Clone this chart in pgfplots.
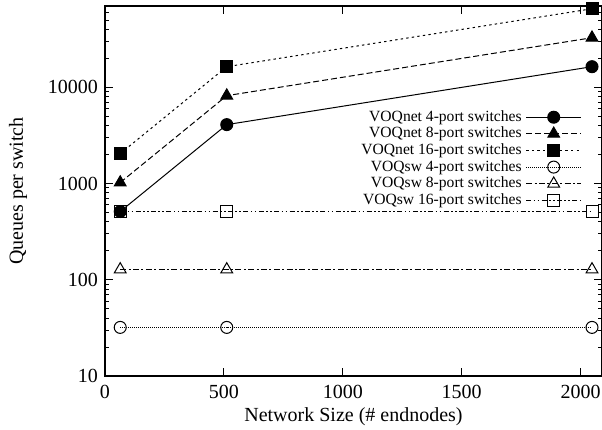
\documentclass[border=0pt]{standalone}
\usepackage{fontspec}
\setmainfont{Liberation Serif}
\usepackage{pgfplots}
\pgfplotsset{compat=1.18}
\begin{document}
\begin{tikzpicture}
\useasboundingbox (0,0) rectangle (301pt,215pt);
\begin{axis}[
  at={(52.5pt,27pt)}, anchor=south west,
  scale only axis, width=248.5pt, height=185pt,
  ymode=log, xmin=0, xmax=2090, ymin=10, ymax=70000,
  xtick={0,500,1000,1500,2000},
  xticklabels={0,500,1000,1500,2000},
  ytick={10,100,1000,10000},
  yticklabels={10,100,1000,10000},
  minor ytick={20,30,40,50,60,70,80,90,200,300,400,500,600,700,800,900,2000,3000,4000,5000,6000,7000,8000,9000,20000,30000,40000,50000,60000,70000},
  tick align=inside,
  major tick length=4pt, minor tick length=2pt,
  tick style={line width=0.5pt, black},
  axis line style={line width=0.7pt},
  /pgf/number format/assume math mode=true,
  ticklabel style={font=\fontsize{10}{12}\selectfont},
  xticklabel style={yshift=-1pt},
  xlabel={Network Size (\# endnodes)},
  ylabel={Queues per switch},
  label style={font=\fontsize{10}{12}\selectfont},
  xlabel style={at={(axis description cs:0.5,-0.11)}, anchor=center},
  ylabel style={at={(axis description cs:-0.175,0.5)}, anchor=center, rotate=0},
  legend cell align=right,
  legend plot pos=right,
  legend style={draw=none, fill=none, at={(0.96,0.73)}, anchor=north east,
    font=\fontsize{7.8}{8}\selectfont, row sep=-2.6pt, inner sep=0pt},
  legend image code/.code={\draw[mark repeat=2,mark phase=2,#1] plot coordinates {(0pt,0pt) (13.75pt,0pt) (27.5pt,0pt)};},
  every axis plot/.append style={black, line width=0.5pt},
]
\addplot[solid, mark=*, mark size=3pt, mark options={solid}] coordinates {(64,512) (512,4096) (2048,16384)};
\addlegendentry{VOQnet 4-port switches}
\addplot[dash pattern=on 3pt off 1.5pt, mark=triangle*, mark size=3.4pt, mark options={solid}] coordinates {(64,1024) (512,8192) (2048,32768)};
\addlegendentry{VOQnet 8-port switches}
\addplot[dash pattern=on 1.2pt off 1.6pt, mark=square*, mark size=3pt, mark options={solid}] coordinates {(64,2048) (512,16384) (2048,65536)};
\addlegendentry{VOQnet 16-port switches}
\addplot[dash pattern=on 0.5pt off 0.5pt, mark=o, mark size=3pt, mark options={solid}] coordinates {(64,32) (512,32) (2048,32)};
\addlegendentry{VOQsw 4-port switches}
\addplot[dash pattern=on 3pt off 1.2pt on 1pt off 1.2pt, mark=triangle, mark size=3.4pt, mark options={solid}] coordinates {(64,128) (512,128) (2048,128)};
\addlegendentry{VOQsw 8-port switches}
\addplot[dash pattern=on 2.5pt off 1.2pt on 0.8pt off 1.2pt on 0.8pt off 1.2pt, mark=square, mark size=3pt, mark options={solid}] coordinates {(64,512) (512,512) (2048,512)};
\addlegendentry{VOQsw 16-port switches}
\end{axis}
\end{tikzpicture}
\end{document}
